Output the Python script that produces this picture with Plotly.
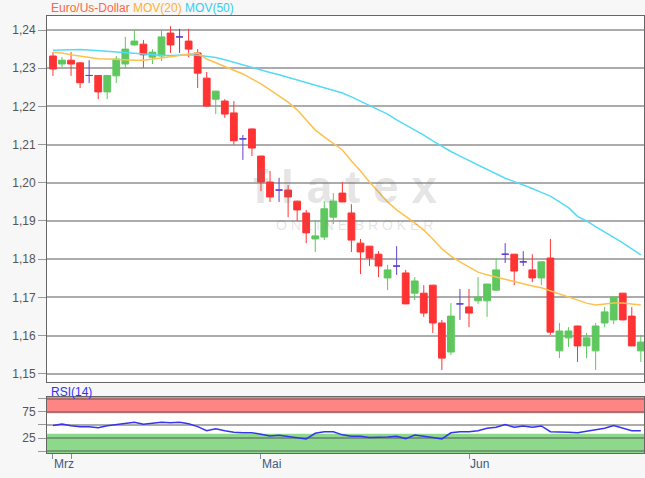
import plotly.graph_objects as go

# ---------------- data ----------------
idx = list(range(66))

opens = [1.2332, 1.2311, 1.2321, 1.2314, 1.2281, 1.2281, 1.2238, 1.2280, 1.2311, 1.2361,
         1.2363, 1.2329, 1.2332, 1.2392, 1.2382, 1.2371, 1.2340, 1.2274, 1.2219, 1.2214,
         1.2183, 1.2115, 1.2141, 1.2070, 1.2002, 1.1981, 1.1981, 1.1952, 1.1921, 1.1853,
         1.1858, 1.1910, 1.1973, 1.1921, 1.1842, 1.1834, 1.1813, 1.1751, 1.1782, 1.1764,
         1.1711, 1.1711, 1.1732, 1.1633, 1.1557, 1.1683, 1.1675, 1.1691, 1.1691, 1.1719,
         1.1813, 1.1813, 1.1793, 1.1772, 1.1751, 1.1803, 1.1560, 1.1594, 1.1625, 1.1573,
         1.1560, 1.1633, 1.1641, 1.1711, 1.1651, 1.1560]
highs = [1.2342, 1.2329, 1.2342, 1.2316, 1.2321, 1.2282, 1.2282, 1.2332, 1.2382, 1.2400,
         1.2374, 1.2350, 1.2400, 1.2410, 1.2403, 1.2403, 1.2350, 1.2290, 1.2241, 1.2219,
         1.2214, 1.2125, 1.2142, 1.2071, 1.2031, 1.2013, 1.1994, 1.1953, 1.1929, 1.1903,
         1.1952, 1.1973, 1.2002, 1.1944, 1.1853, 1.1835, 1.1821, 1.1785, 1.1834, 1.1772,
         1.1753, 1.1732, 1.1733, 1.1641, 1.1685, 1.1722, 1.1722, 1.1753, 1.1735, 1.1803,
         1.1842, 1.1814, 1.1821, 1.1813, 1.1794, 1.1853, 1.1633, 1.1622, 1.1626, 1.1607,
         1.1633, 1.1675, 1.1702, 1.1712, 1.1675, 1.1602]
lows = [1.2280, 1.2303, 1.2280, 1.2248, 1.2261, 1.2219, 1.2219, 1.2261, 1.2300, 1.2359,
        1.2301, 1.2311, 1.2319, 1.2340, 1.2340, 1.2329, 1.2248, 1.2200, 1.2180, 1.2170,
        1.2100, 1.2060, 1.2070, 1.1978, 1.1950, 1.1950, 1.1910, 1.1900, 1.1842, 1.1819,
        1.1850, 1.1892, 1.1949, 1.1819, 1.1761, 1.1782, 1.1753, 1.1719, 1.1759, 1.1682,
        1.1693, 1.1649, 1.1607, 1.1510, 1.1549, 1.1641, 1.1622, 1.1683, 1.1649, 1.1717,
        1.1790, 1.1732, 1.1782, 1.1740, 1.1732, 1.1602, 1.1541, 1.1570, 1.1531, 1.1541,
        1.1510, 1.1622, 1.1630, 1.1640, 1.1572, 1.1531]
closes = [1.2298, 1.2321, 1.2311, 1.2262, 1.2281, 1.2238, 1.2281, 1.2324, 1.2350, 1.2371,
          1.2335, 1.2342, 1.2382, 1.2361, 1.2382, 1.2350, 1.2287, 1.2201, 1.2240, 1.2180,
          1.2110, 1.2115, 1.2091, 1.2002, 1.1963, 1.1981, 1.1963, 1.1929, 1.1869, 1.1861,
          1.1932, 1.1952, 1.1950, 1.1850, 1.1819, 1.1803, 1.1782, 1.1772, 1.1782, 1.1683,
          1.1743, 1.1659, 1.1633, 1.1541, 1.1651, 1.1683, 1.1659, 1.1701, 1.1735, 1.1772,
          1.1813, 1.1769, 1.1793, 1.1751, 1.1793, 1.1609, 1.1612, 1.1612, 1.1573, 1.1594,
          1.1625, 1.1662, 1.1701, 1.1641, 1.1573, 1.1583]

mov20 = [1.2342, 1.2340, 1.2335, 1.2332, 1.2328, 1.2325, 1.2324, 1.2323, 1.2321, 1.2321,
         1.2321, 1.2324, 1.2327, 1.2329, 1.2333, 1.2337, 1.2340, 1.2324, 1.2314, 1.2306,
         1.2295, 1.2285, 1.2272, 1.2259, 1.2243, 1.2227, 1.2211, 1.2191, 1.2164, 1.2138,
         1.2120, 1.2104, 1.2086, 1.2057, 1.2031, 1.2002, 1.1976, 1.1950, 1.1929, 1.1913,
         1.1895, 1.1876, 1.1853, 1.1827, 1.1808, 1.1793, 1.1780, 1.1766, 1.1759, 1.1753,
         1.1746, 1.1740, 1.1735, 1.1730, 1.1725, 1.1717, 1.1709, 1.1699, 1.1691, 1.1685,
         1.1680, 1.1683, 1.1685, 1.1685, 1.1683, 1.1680]
mov50 = [1.2347, 1.2348, 1.2349, 1.2349, 1.2348, 1.2346, 1.2344, 1.2342, 1.2340, 1.2338,
         1.2336, 1.2335, 1.2334, 1.2333, 1.2334, 1.2335, 1.2334, 1.2331, 1.2328, 1.2322,
         1.2315, 1.2309, 1.2303, 1.2296, 1.2289, 1.2283, 1.2276, 1.2269, 1.2262, 1.2256,
         1.2250, 1.2243, 1.2235, 1.2225, 1.2214, 1.2204, 1.2192, 1.2180, 1.2165, 1.2152,
         1.2140, 1.2125, 1.2110, 1.2095, 1.2082, 1.2070, 1.2058, 1.2047, 1.2036, 1.2022,
         1.2012, 1.2003, 1.1995, 1.1985, 1.1975, 1.1965, 1.1950, 1.1935, 1.1912, 1.1900,
         1.1885, 1.1870, 1.1857, 1.1843, 1.1827, 1.1811]
rsi = [49, 51.5, 48.5, 46.6, 46.6, 44.7, 48.5, 51, 53, 55,
       51, 53, 54.9, 54, 54.9, 52, 46.6, 39, 42.8, 39,
       36, 35.2, 35.2, 32, 29, 30.3, 27.7, 26, 23.2, 34,
       37, 37, 31, 28.3, 28.3, 26, 25.8, 27, 28.3, 23.9,
       30.8, 27.7, 25.8, 23.2, 35, 37, 37, 39, 43.5, 45.4,
       50.4, 45.4, 47.9, 45.4, 47.9, 37, 37, 36, 35.2, 38,
       40.3, 43.5, 48.5, 43.5, 39, 39]

month_ticks = [0, 2, 23, 46]
month_labels = ["Mrz", "", "Mai", "Jun"]
price_ticks = [1.15, 1.16, 1.17, 1.18, 1.19, 1.20, 1.21, 1.22, 1.23, 1.24]
rsi_grid = [0, 25, 50, 75, 100]
rsi_labels = ["", "25", "", "75", ""]

# ---------------- styles ----------------
GREEN = "#5ec75e"
RED = "#ff3333"
DOJI = "#6040d0"
ORANGE = "#ffc04d"
CYAN = "#55daf5"
GRID = "rgba(90,90,90,0.5)"
FRAME = "#666666"
FONT = "Liberation Sans, Arial, sans-serif"

up = [i for i in idx if closes[i] > opens[i]]
down = [i for i in idx if closes[i] < opens[i]]
doji = [i for i in idx if closes[i] == opens[i]]


def candles(sel, color):
    return go.Candlestick(
        x=sel,
        open=[opens[i] for i in sel],
        high=[highs[i] for i in sel],
        low=[lows[i] for i in sel],
        close=[closes[i] for i in sel],
        increasing=dict(line=dict(color=color, width=1), fillcolor=color),
        decreasing=dict(line=dict(color=color, width=1), fillcolor=color),
        whiskerwidth=0,
        hoverinfo="skip",
        showlegend=False,
        xaxis="x", yaxis="y",
    )


fig = go.Figure()
fig.add_trace(candles(up, GREEN))
fig.add_trace(candles(down, RED))
fig.add_trace(candles(doji, DOJI))
fig.add_trace(go.Scatter(x=idx, y=mov50, mode="lines", line=dict(color=CYAN, width=1.5),
                         hoverinfo="skip", showlegend=False, xaxis="x", yaxis="y"))
fig.add_trace(go.Scatter(x=idx, y=mov20, mode="lines", line=dict(color=ORANGE, width=1.5),
                         hoverinfo="skip", showlegend=False, xaxis="x", yaxis="y"))
fig.add_trace(go.Scatter(x=idx, y=rsi, mode="lines", line=dict(color="#3535ee", width=1.5),
                         hoverinfo="skip", showlegend=False, xaxis="x2", yaxis="y2"))

xr = [-0.66, 65.35]
fig.update_layout(
    width=645, height=478,
    margin=dict(l=47, r=1, t=16, b=25),
    paper_bgcolor="#f7f7f7", plot_bgcolor="white",
    separators=",.",
    font=dict(family=FONT, size=12, color="#555"),
    showlegend=False,
    boxgap=0.25, boxgroupgap=0,
    xaxis=dict(domain=[0, 1], anchor="y", range=xr, showticklabels=False, ticks="",
               showgrid=False, zeroline=False, showline=True, mirror=True,
               linecolor=FRAME, linewidth=1, rangeslider=dict(visible=False)),
    yaxis=dict(domain=[0.1632, 1], anchor="x", range=[1.14793, 1.24367],
               tickvals=price_ticks, tickformat=".2f", ticks="outside", ticklen=8,
               tickcolor="#999", gridcolor=GRID, gridwidth=1.5, zeroline=False,
               showline=True, mirror=True, linecolor=FRAME, linewidth=1,
               tickfont=dict(size=12, color="#555")),
    xaxis2=dict(domain=[0, 1], anchor="y2", range=xr, matches="x",
                tickvals=month_ticks, ticktext=month_labels,
                ticklabelposition="outside right", ticks="outside", ticklen=5,
                tickcolor="#7f8fa8", tickfont=dict(size=12, color="#3d5a80"),
                showgrid=False, zeroline=False, showline=True, mirror=True,
                linecolor=FRAME, linewidth=1),
    yaxis2=dict(domain=[0, 0.1281], anchor="x2", range=[-3.46, 102.9],
                tickvals=rsi_grid, ticktext=rsi_labels, ticks="outside", ticklen=8,
                tickcolor="#999", gridcolor=GRID, gridwidth=1.5, zeroline=False,
                showline=True, mirror=True, linecolor=FRAME, linewidth=1,
                tickfont=dict(size=12, color="#555")),
    shapes=[
        dict(type="rect", xref="x2 domain", yref="y2", x0=0, x1=1, y0=72, y1=102.9,
             fillcolor="#ff8585", line=dict(width=0), layer="below"),
        dict(type="rect", xref="x2 domain", yref="y2", x0=0, x1=1, y0=-3.46, y1=33,
             fillcolor="#8cd98c", line=dict(width=0), layer="below"),
    ],
    annotations=[
        dict(xref="paper", yref="paper", x=0.0034, y=1.0172, xanchor="left", yanchor="middle",
             showarrow=False,
             text='<span style="color:#ff6644">Euro/Us-Dollar</span> '
                  '<span style="color:#ffb030">MOV(20)</span> '
                  '<span style="color:#33ccf5">MOV(50)</span>',
             font=dict(size=12, family=FONT)),
        dict(xref="paper", yref="paper", x=0.0034, y=0.1396, xanchor="left", yanchor="middle",
             showarrow=False, text="RSI(14)", font=dict(size=12, color="#3030ff", family=FONT)),
        dict(xref="paper", yref="paper", x=0.499, y=0.6087, xanchor="center", yanchor="middle",
             showarrow=False, text="f l a t e x",
             font=dict(size=46, color="rgba(120,120,120,0.2)", family=FONT, weight="bold")),
        dict(xref="paper", yref="paper", x=0.515, y=0.5217, xanchor="center", yanchor="middle",
             showarrow=False, text="O N L I N E \u00a0B R O K E R",
             font=dict(size=14, color="rgba(120,120,120,0.2)", family=FONT)),
    ],
)

fig.write_html("out.html", config={"displayModeBar": False},
               post_script="document.body.style.margin='0';")
